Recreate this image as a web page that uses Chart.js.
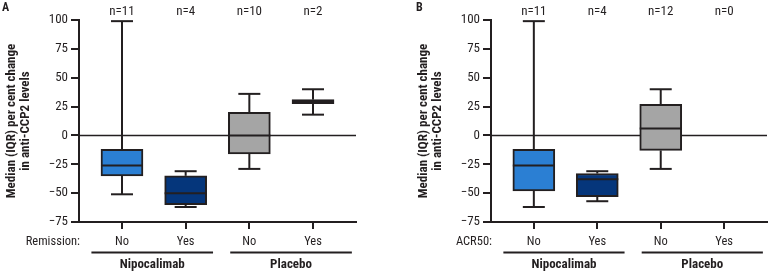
<!DOCTYPE html>
<html><head><meta charset="utf-8">
<script src="https://cdn.jsdelivr.net/npm/chart.js@4/dist/chart.umd.min.js"></script>
<style>
html,body{margin:0;padding:0;background:#fff;}
#wrap{position:relative;width:768px;height:272px;overflow:hidden;background:#fff;}
.panel{position:absolute;top:0;width:384px;height:272px;}
canvas{display:block;}
</style></head><body>
<div id="wrap">
<div class="panel" style="left:0"><canvas id="cA" width="384" height="272"></canvas></div>
<div class="panel" style="left:384px"><canvas id="cB" width="384" height="272"></canvas></div>
</div>
<script>
// ---- data ----
const categories = ['No', 'Yes', 'No', 'Yes'];
const groups = ['Nipocalimab', 'Placebo'];
const yTitle = ['Median (IQR) per cent change', 'in anti-CCP2 levels'];

// Panel A: Remission
const remissionN      = [11, 4, 10, 2];
const remissionMin    = [-51, -62, -29, 18];
const remissionQ1     = [-35, -60, -16, 27.6];
const remissionMedian = [-26, -50, 0, 29.3];
const remissionQ3     = [-12, -35, 20, 31.0];
const remissionMax    = [99, -31, 36, 40];

// Panel B: ACR50
const acr50N      = [11, 4, 12, 0];
const acr50Min    = [-62, -57, -29, null];
const acr50Q1     = [-48, -53, -13, null];
const acr50Median = [-26, -38, 6, null];
const acr50Q3     = [-12, -33, 27, null];
const acr50Max    = [99, -31, 40, null];

// ---- styles ----
const FONT = '"Roboto Condensed", "Open Sans Condensed", sans-serif';
const INK = '#231f20';
const boxColors = ['#2b7fd3', '#05367b', '#a5a5a5', '#a5a5a5'];
const groupSpans = [[0.52, 2.43], [2.70, 4.61]];

Chart.defaults.font.family = FONT;
Chart.defaults.color = INK;

const decor = {
  id: 'decor',
  beforeDatasetsDraw(chart, args, o) {
    const ctx = chart.ctx, y = chart.scales.y, a = chart.chartArea;
    const py = y.getPixelForValue(0);
    ctx.save();
    ctx.strokeStyle = INK; ctx.lineWidth = 1.5;
    ctx.beginPath(); ctx.moveTo(a.left, py); ctx.lineTo(a.right, py); ctx.stroke();
    ctx.restore();
  },
  afterDatasetsDraw(chart, args, o) {
    const ctx = chart.ctx, xs = chart.scales.x, ys = chart.scales.y;
    ctx.save();
    ctx.strokeStyle = INK; ctx.lineWidth = 2;
    o.median.forEach((m, i) => {
      if (m == null) return;
      const cx = xs.getPixelForValue(i + 1);
      const capHalf = 11, boxHalf = 21;
      const segs = [[o.q3[i], o.max[i]], [o.q1[i], o.min[i]]];
      segs.forEach(([from, to]) => {
        const p1 = ys.getPixelForValue(from), p2 = ys.getPixelForValue(to);
        ctx.beginPath(); ctx.moveTo(cx, p1); ctx.lineTo(cx, p2); ctx.stroke();
        ctx.beginPath(); ctx.moveTo(cx - capHalf, p2); ctx.lineTo(cx + capHalf, p2); ctx.stroke();
      });
      const pm = ys.getPixelForValue(m);
      ctx.beginPath(); ctx.moveTo(cx - boxHalf, pm); ctx.lineTo(cx + boxHalf, pm); ctx.stroke();
    });
    ctx.restore();
  },
  afterDraw(chart, args, o) {
    const ctx = chart.ctx, xs = chart.scales.x, a = chart.chartArea;
    ctx.save();
    ctx.fillStyle = INK;
    ctx.textBaseline = 'middle';
    ctx.font = '13px ' + FONT;
    ctx.textAlign = 'center';
    o.n.forEach((v, i) => ctx.fillText('n=' + v, xs.getPixelForValue(i + 1), 12));
    ctx.font = '12.5px ' + FONT;
    ctx.textAlign = 'right';
    ctx.fillText(o.rowLabel, a.left + 1, 242);
    ctx.strokeStyle = INK; ctx.lineWidth = 2;
    ctx.font = 'bold 13px ' + FONT;
    ctx.textAlign = 'center';
    groups.forEach((g, gi) => {
      const x1 = xs.getPixelForValue(groupSpans[gi][0]);
      const x2 = xs.getPixelForValue(groupSpans[gi][1]);
      ctx.beginPath(); ctx.moveTo(x1, 252.5); ctx.lineTo(x2, 252.5); ctx.stroke();
      ctx.fillText(g, (x1 + x2) / 2, 265);
    });
    ctx.font = 'bold 12px ' + FONT;
    ctx.textAlign = 'left';
    ctx.textBaseline = 'top';
    ctx.fillText(o.letter, o.letterX, 2);
    ctx.restore();
  }
};

function makePanel(id, letter, letterX, rowLabel, n, mn, q1, med, q3, mx, padLeft, padRight) {
  const idx = categories.map((c, i) => i).filter(i => q1[i] != null);
  new Chart(document.getElementById(id), {
    type: 'bar',
    data: {
      datasets: [{
        data: idx.map(i => ({ x: i + 1, y: [q1[i], q3[i]] })),
        backgroundColor: idx.map(i => boxColors[i]),
        borderColor: INK,
        borderWidth: 2,
        borderSkipped: false,
        barThickness: 42
      }]
    },
    options: {
      responsive: false,
      animation: false,
      events: [],
      layout: { padding: { top: 20, left: padLeft, right: padRight, bottom: 0 } },
      plugins: {
        legend: { display: false },
        tooltip: { enabled: false },
        decor: { n, min: mn, q1, median: med, q3, max: mx, rowLabel, letter, letterX }
      },
      scales: {
        x: {
          type: 'linear',
          offset: false,
          min: 0.325, max: 4.675,
          afterBuildTicks: s => { s.ticks = categories.map((c, i) => ({ value: i + 1 })); },
          afterFit: s => { s.height = 50; },
          ticks: {
            callback: (v, i) => categories[i],
            font: { size: 12.5 }, color: INK, padding: 5,
            maxRotation: 0, autoSkip: false
          },
          grid: { offset: false, drawOnChartArea: false, tickLength: 7, color: INK, lineWidth: 2 },
          border: { color: INK, width: 2 }
        },
        y: {
          min: -75, max: 100,
          afterFit: s => { s.width = 79; },
          ticks: {
            stepSize: 25,
            callback: v => String(v).replace('-', '\u2212'),
            font: { size: 13 }, color: INK, padding: 3
          },
          grid: { drawOnChartArea: false, tickLength: 8, color: INK, lineWidth: 2 },
          border: { color: INK, width: 2 },
          title: {
            display: true,
            text: yTitle,
            font: { size: 13, weight: 'bold', lineHeight: 1.1 },
            color: INK,
            padding: { top: 4.5, bottom: 0 }
          }
        }
      }
    },
    plugins: [decor]
  });
}

makePanel('cA', 'A', 2, 'Remission:', remissionN, remissionMin, remissionQ1, remissionMedian, remissionQ3, remissionMax, 0, 28);
makePanel('cB', 'B', 32, 'ACR50:', acr50N, acr50Min, acr50Q1, acr50Median, acr50Q3, acr50Max, 28, 1);
</script>
</body></html>
